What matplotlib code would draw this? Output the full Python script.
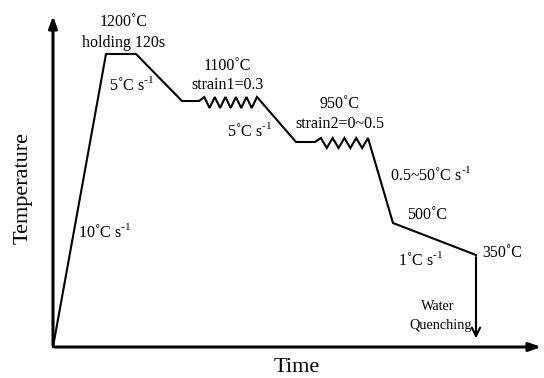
import numpy as np
import matplotlib.pyplot as plt

plt.rcParams['font.family'] = ['Liberation Serif', 'DejaVu Serif']
plt.rcParams['mathtext.fontset'] = 'custom'
plt.rcParams['mathtext.rm'] = 'Liberation Serif'

# schematic path key points (arbitrary time / temperature units)
time_pts = [0, 53, 83, 129, 146, 204, 243, 262, 315, 340, 423]
temp_pts = [0, 293, 293, 246, 246, 250, 205, 205, 209, 124, 92]
# deformation segments drawn as zigzag: (start index, number of teeth, trough level)
strain_segs = [(4, 6, 239), (7, 5, 199)]
quench_end = 6

SUP = r"$^{\text{-1}}$"
labels = [
    ("1200˚C", 71, 325, 11.5),
    ("holding 120s", 71, 304, 11.5),
    ("5˚C s" + SUP, 79, 262, 11.5),
    ("1100˚C", 174, 281, 11.5),
    ("strain1=0.3", 174, 262, 11.5),
    ("5˚C s" + SUP, 197, 216, 11.5),
    ("950˚C", 287, 243, 11.5),
    ("strain2=0~0.5", 287, 223, 11.5),
    ("0.5~50˚C s" + SUP, 378, 172, 11.5),
    ("500˚C", 374, 132, 11.5),
    ("1˚C s" + SUP, 368, 87, 11.5),
    ("350˚C", 449, 94, 11.5),
    ("10˚C s" + SUP, 52, 115, 11.5),
    ("Water", 385, 40, 10.3),
    ("Quenching", 388, 22, 10.3),
]


def build_path():
    xs, ys = [], []
    zig = {s[0]: s for s in strain_segs}
    for i in range(len(time_pts)):
        xs.append(time_pts[i])
        ys.append(temp_pts[i])
        if i in zig:
            _, n, trough = zig[i]
            x0, x1 = time_pts[i], time_pts[i + 1]
            peak = temp_pts[i + 1]
            step = (x1 - x0) / (2 * n - 1)
            for k in range(1, 2 * n - 1):
                xs.append(x0 + k * step)
                ys.append(peak if k % 2 == 1 else trough)
    return xs, ys


fig = plt.figure(figsize=(5.44, 3.78), dpi=100)
ax = fig.add_axes([0, 0, 1, 1])
ax.set_xlim(-53, 491)
ax.set_ylim(-31, 347)
ax.axis('off')

xs, ys = build_path()
ax.plot(xs, ys, color='black', lw=1.5, solid_joinstyle='miter')

# axes arrows
ax.annotate('', xy=(0, 334), xytext=(0, -1),
            arrowprops=dict(arrowstyle='-|>,head_length=0.7,head_width=0.25', lw=2.2, color='black'))
ax.annotate('', xy=(491, 0), xytext=(-1, 0),
            arrowprops=dict(arrowstyle='-|>,head_length=0.7,head_width=0.25', lw=2.2, color='black'))

# water quench arrow
ax.annotate('', xy=(time_pts[-1], quench_end), xytext=(time_pts[-1], temp_pts[-1] + 0.7),
            arrowprops=dict(arrowstyle='->,head_length=0.6,head_width=0.3', lw=1.5, color='black'))

for txt, x, y, fs in labels:
    ax.text(x, y, txt, ha='center', va='center', fontsize=fs)

ax.text(-30, 159, 'Temperature', rotation=90, ha='center', va='center', fontsize=16)
ax.text(244, -21, 'Time', ha='center', va='center', fontsize=16)

plt.savefig('out.png', dpi=100)
plt.close()
